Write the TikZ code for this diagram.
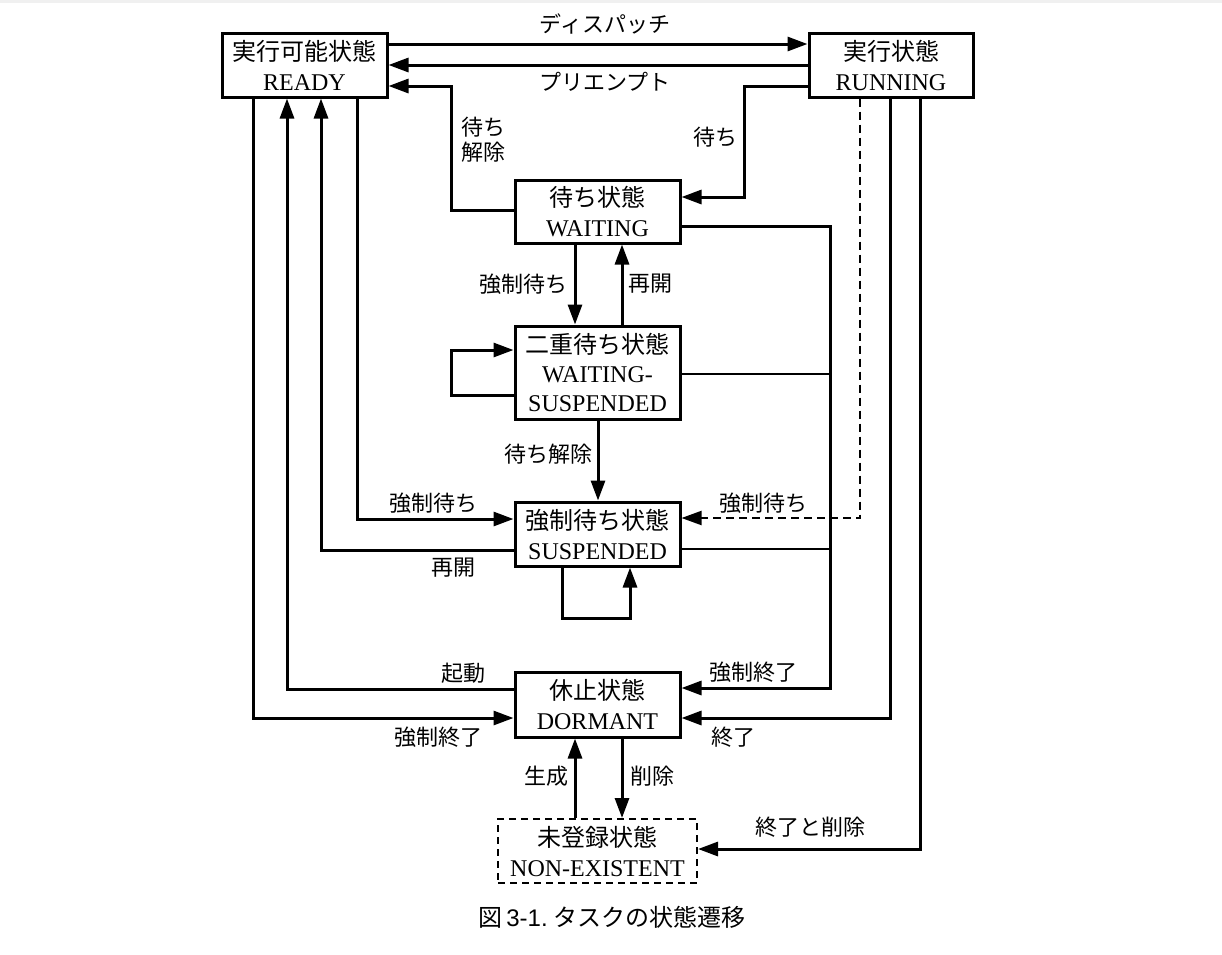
\documentclass[tikz,border=0pt]{standalone}
\usepackage{fontspec}
\setmainfont{Liberation Serif}
\newfontfamily\jp{Noto Sans CJK JP}
\newfontfamily\capsans{Liberation Sans}
\usetikzlibrary{arrows.meta,calc}

\begin{document}
\begin{tikzpicture}[x=1pt,y=-1pt,
  state/.style={draw,line width=3pt,minimum width=165pt,minimum height=64pt,
    inner sep=0pt,align=center,font=\fontsize{24}{30}\selectfont},
  lbl/.style={font=\jp\fontsize{22}{25}\selectfont,inner sep=0pt,align=center},
  arr/.style={line width=3pt,-{Triangle[length=20pt,width=14pt]}},
  dasharr/.style={line width=2pt,dash pattern=on 8pt off 5pt,-{Triangle[length=20pt,width=14pt]}},
  ln/.style={line width=3pt},
  thinln/.style={line width=1.8pt},
]
\useasboundingbox (0,0) rectangle (1222,954);
\fill[gray!12] (0,0) rectangle (1222,3);

% task states
\node[state] (ready) at (304.5,65) {{\jp 実行可能状態}\\READY};
\node[state,minimum width=164pt] (run) at (891,65) {{\jp 実行状態}\\RUNNING};
\node[state,minimum height=63pt] (wait) at (597.5,211.5) {{\jp 待ち状態}\\WAITING};
\node[state,minimum height=93pt,font=\fontsize{24}{29}\selectfont] (ws) at (597.5,372.5)
  {{\jp 二重待ち状態}\\WAITING-\\SUSPENDED};
\node[state] (susp) at (597.5,534) {{\jp 強制待ち状態}\\SUSPENDED};
\node[state,minimum height=65pt] (dorm) at (597.5,704.5) {{\jp 休止状態}\\DORMANT};
\node[state,line width=2pt,dash pattern=on 7pt off 5pt,minimum width=199pt] (ne) at (597.5,851)
  {{\jp 未登録状態}\\NON-EXISTENT};

% READY <-> RUNNING
\draw[arr] (ready.east |- 0,44) -- (run.west |- 0,44);
\draw[arr] (run.west |- 0,65) -- (ready.east |- 0,65);
\node[lbl] (l1) at (605,24) {ディスパッチ};
\node[lbl] (l2) at (605,82) {プリエンプト};

% WAITING
\draw[arr] (wait.west |- 0,210) -| (451,86) -- (ready.east |- 0,86);
\node[lbl] (l3) at (483,140) {待ち\\解除};
\draw[arr] (run.west |- 0,86) -| (744,197) -- (wait.east |- 0,197);
\node[lbl] (l4) at (715,137) {待ち};

% forced termination bus on the right
\draw[arr] (wait.east |- 0,226) -| (830,688) -- (dorm.east |- 0,688);
\draw[thinln] (ws.east |- 0,374) -- (830,374);
\draw[thinln] (susp.east |- 0,549) -- (830,549);
\node[lbl] (l5) at (753,672) {強制終了};

% WAITING <-> WAITING-SUSPENDED
\draw[arr] (wait.south -| 575,0) -- (ws.north -| 575,0);
\draw[arr] (ws.north -| 622,0) -- (wait.south -| 622,0);
\node[lbl] (l6) at (523,284) {強制待ち};
\node[lbl] (l7) at (650,284) {再開};
\draw[arr] (ws.west |- 0,395) -| (451,350) -- (ws.west |- 0,350);

% WAITING-SUSPENDED -> SUSPENDED
\draw[arr] (ws.south -| 598,0) -- (susp.north -| 598,0);
\node[lbl] (l8) at (548,454) {待ち解除};
\draw[arr] (susp.south -| 562,0) |- (630,618) -- (susp.south -| 630,0);

% SUSPENDED
\draw[dasharr] (run.south -| 860,0) |- (susp.east |- 0,518);
\node[lbl] (l9) at (763,503) {強制待ち};
\draw[arr] (ready.south -| 357,0) |- (susp.west |- 0,519);
\node[lbl] (l10) at (433,503) {強制待ち};
\draw[arr] (susp.west |- 0,550) -| (ready.south -| 321,0);
\node[lbl] (l11) at (453,568) {再開};

% DORMANT
\draw[arr] (dorm.west |- 0,689) -| (ready.south -| 287,0);
\node[lbl] (l12) at (463,673) {起動};
\draw[arr] (ready.south -| 253,0) |- (dorm.west |- 0,718);
\node[lbl] (l13) at (438,737) {強制終了};
\draw[arr] (run.south -| 890,0) |- (dorm.east |- 0,718);
\node[lbl] (l14) at (733,737) {終了};

% NON-EXISTENT
\draw[arr] (run.south -| 920,0) |- (ne.east |- 0,849);
\node[lbl] (l15) at (810,827) {終了と削除};
\draw[arr] (ne.north -| 575,0) -- (dorm.south -| 575,0);
\draw[arr] (dorm.south -| 622,0) -- (ne.north -| 622,0);
\node[lbl] (l16) at (546,776) {生成};
\node[lbl] (l17) at (652,776) {削除};

% caption
\node[font=\jp\fontsize{24}{28}\selectfont,inner sep=0pt] (cap) at (612,917)
  {図\hspace{4pt}{\capsans 3-1.}\hspace{6pt}タスクの状態遷移};
\end{tikzpicture}
\end{document}
